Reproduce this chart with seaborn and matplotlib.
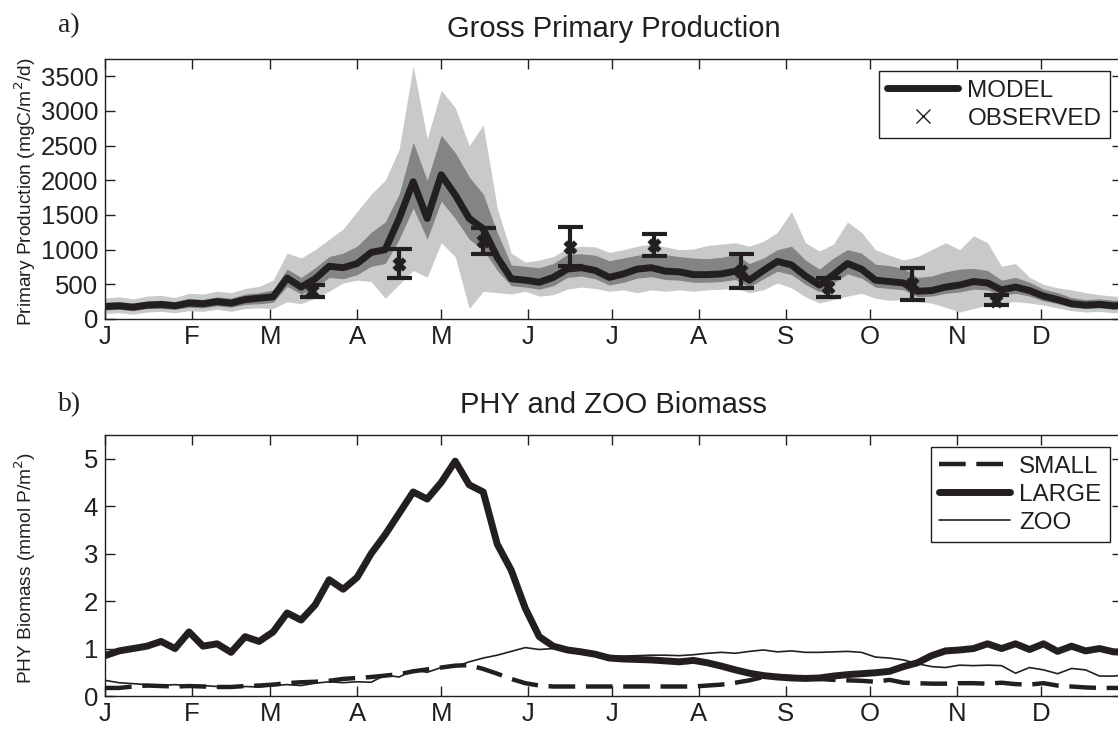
import numpy as np
import pandas as pd
import matplotlib
matplotlib.use("Agg")
import matplotlib.pyplot as plt
from matplotlib.lines import Line2D
import seaborn as sns

# ---------------------------------------------------------------- data
# day of year (5-day steps)
DAY = np.arange(0, 366, 5)

# gross primary production, mgC/m2/d : model median, inner and outer envelopes
GPP_MODEL = [180, 190, 170, 200, 210, 190, 230, 220, 250, 230, 280, 300, 320, 590, 460,
             580, 760, 740, 800, 960, 1000, 1450, 1980, 1450, 2080, 1790, 1450, 1300, 890,
             580, 560, 530, 600, 720, 740, 700, 600, 650, 720, 740, 690, 680, 640, 640, 650,
             690, 560, 700, 830, 780, 620, 490, 640, 800, 720, 560, 540, 520, 400, 410, 460,
             490, 540, 520, 420, 460, 410, 330, 280, 220, 200, 210, 190, 200]
GPP_IN_LO = [130, 140, 120, 150, 150, 140, 170, 160, 190, 170, 210, 220, 240, 470, 360,
             440, 600, 580, 640, 760, 800, 1150, 1600, 1150, 1700, 1450, 1150, 1000, 700,
             480, 460, 430, 480, 600, 620, 580, 490, 530, 590, 610, 570, 560, 530, 530, 540,
             570, 460, 580, 690, 640, 500, 390, 520, 650, 590, 460, 440, 420, 320, 330, 370,
             390, 430, 420, 340, 370, 330, 260, 220, 170, 150, 160, 140, 150]
GPP_IN_HI = [240, 250, 230, 260, 270, 250, 300, 280, 320, 300, 360, 380, 420, 720, 600,
             740, 900, 950, 1050, 1250, 1400, 1800, 2550, 2000, 2650, 2400, 2050, 1800, 1250,
             780, 760, 740, 800, 930, 940, 920, 840, 880, 920, 950, 930, 900, 880, 870, 890,
             930, 800, 880, 1000, 1050, 850, 720, 880, 1000, 950, 790, 770, 730, 600, 620, 680,
             720, 730, 700, 560, 600, 530, 430, 380, 310, 280, 290, 270, 280]
GPP_OUT_LO = [80, 90, 70, 100, 110, 90, 120, 110, 140, 110, 150, 160, 150, 250, 220,
              300, 400, 520, 560, 540, 300, 500, 700, 600, 1100, 900, 150, 400, 380,
              360, 400, 330, 350, 430, 460, 440, 400, 420, 380, 420, 400, 420, 400, 420, 430,
              450, 380, 420, 520, 450, 320, 230, 280, 330, 370, 300, 270, 280, 250, 230, 170,
              100, 150, 200, 230, 250, 230, 200, 160, 120, 100, 110, 90, 100]
GPP_OUT_HI = [300, 320, 290, 330, 340, 310, 370, 360, 400, 380, 440, 470, 560, 950, 880,
              1000, 1150, 1300, 1550, 1800, 2000, 2450, 3650, 2600, 3300, 3050, 2500, 2800, 1600,
              950, 820, 850, 900, 1020, 1050, 1040, 960, 1000, 1050, 1080, 1040, 1000, 1010, 1060,
              1080, 1100, 1050, 1120, 1250, 1550, 1100, 980, 1080, 1400, 1250, 1000, 920, 850, 900,
              1000, 1100, 1000, 1200, 1100, 760, 800, 600, 500, 450, 420, 380, 350, 330, 330]

# observed production with ranges
OBS_DAY = [74, 105, 135, 166, 196, 227, 258, 288, 318]
OBS_VAL = [400, 795, 1130, 1045, 1065, 690, 455, 505, 265]
OBS_LO = [320, 585, 935, 765, 910, 450, 320, 275, 195]
OBS_HI = [490, 1005, 1315, 1320, 1225, 935, 590, 730, 340]

# biomass, mmol P/m2
SMALL = [0.17, 0.17, 0.20, 0.22, 0.21, 0.20, 0.21, 0.20, 0.19, 0.19, 0.21, 0.22, 0.24, 0.27,
         0.29, 0.30, 0.32, 0.36, 0.38, 0.40, 0.43, 0.46, 0.52, 0.56, 0.60, 0.64, 0.65, 0.57,
         0.47, 0.36, 0.27, 0.22, 0.20, 0.20, 0.20, 0.20, 0.20, 0.20, 0.20, 0.20, 0.20, 0.20,
         0.20, 0.22, 0.24, 0.28, 0.33, 0.40, 0.42, 0.40, 0.38, 0.36, 0.34, 0.33, 0.32, 0.30,
         0.34, 0.28, 0.27, 0.26, 0.26, 0.27, 0.27, 0.26, 0.28, 0.25, 0.24, 0.27, 0.22, 0.20,
         0.18, 0.17, 0.17, 0.17]
LARGE = [0.85, 0.95, 1.00, 1.05, 1.15, 1.00, 1.35, 1.05, 1.10, 0.92, 1.25, 1.15, 1.35, 1.75,
         1.60, 1.92, 2.45, 2.25, 2.50, 3.00, 3.40, 3.85, 4.30, 4.15, 4.50, 4.95, 4.45, 4.30,
         3.20, 2.65, 1.85, 1.25, 1.05, 0.97, 0.93, 0.88, 0.80, 0.78, 0.77, 0.76, 0.74, 0.72,
         0.75, 0.70, 0.63, 0.55, 0.48, 0.43, 0.40, 0.38, 0.37, 0.38, 0.42, 0.45, 0.47, 0.49,
         0.52, 0.62, 0.70, 0.85, 0.95, 0.97, 1.00, 1.10, 1.00, 1.10, 0.98, 1.10, 0.94, 1.05,
         0.95, 1.00, 0.93, 0.92]
ZOO = [0.33, 0.28, 0.26, 0.24, 0.22, 0.24, 0.21, 0.22, 0.20, 0.18, 0.20, 0.19, 0.22, 0.24,
       0.22, 0.27, 0.30, 0.28, 0.30, 0.29, 0.44, 0.40, 0.55, 0.50, 0.60, 0.62, 0.72, 0.80,
       0.86, 0.94, 1.02, 0.98, 1.00, 0.97, 0.92, 0.88, 0.85, 0.84, 0.85, 0.86, 0.86, 0.85,
       0.87, 0.90, 0.92, 0.90, 0.94, 0.97, 0.93, 0.95, 0.92, 0.92, 0.93, 0.94, 0.92, 0.82,
       0.80, 0.76, 0.68, 0.62, 0.60, 0.65, 0.64, 0.65, 0.64, 0.48, 0.60, 0.55, 0.47, 0.58,
       0.55, 0.42, 0.42, 0.45]

MONTH_START = [0, 31, 59, 90, 120, 151, 181, 212, 243, 273, 304, 334]
MONTH_LABELS = ["J", "F", "M", "A", "M", "J", "J", "A", "S", "O", "N", "D"]
GPP_TICKS = [0, 500, 1000, 1500, 2000, 2500, 3000, 3500]
BIO_TICKS = [0, 1, 2, 3, 4, 5]

# ---------------------------------------------------------------- style
sns.set_theme(style="ticks")
plt.rcParams["font.family"] = ["Liberation Sans", "DejaVu Sans"]
INK = "#231f20"
LIGHT = "#c8c9cb"
DARK = "#838486"
plt.rcParams.update({
    "text.color": INK, "axes.labelcolor": INK, "axes.edgecolor": INK,
    "xtick.color": INK, "ytick.color": INK, "axes.linewidth": 1.0,
})

W, H = 1118, 729
fig = plt.figure(figsize=(W / 100, H / 100), dpi=100)

def px_axes(left, top, right, bottom):
    return fig.add_axes([left / W, 1 - bottom / H, (right - left) / W, (bottom - top) / H])

AX_LEFT, AX_RIGHT = 105, 1122
ax1 = px_axes(AX_LEFT, 59, AX_RIGHT, 319)
ax2 = px_axes(AX_LEFT, 435, AX_RIGHT, 696)

def style_axes(ax, yticks, ylim):
    ax.set_xlim(0, 363)
    ax.set_ylim(*ylim)
    ax.set_xticks(MONTH_START)
    ax.set_xticklabels(MONTH_LABELS)
    ax.set_yticks(yticks)
    ax.tick_params(direction="in", length=7, width=1.0, top=True, right=True,
                   labelsize=18.5, pad=5, color=INK)
    ax.tick_params(axis="x", pad=4)
    for s in ax.spines.values():
        s.set_visible(True)
        s.set_linewidth(1.0)
        s.set_color(INK)
    ax.set_xlabel("")

def place_ylabel(ax, text):
    ax.set_ylabel(text, fontsize=13.8)
    ax.yaxis.set_label_coords((38 - AX_LEFT) / (AX_RIGHT - AX_LEFT), 0.49)

LEG_KW = dict(loc="upper right", bbox_transform=fig.transFigure, fontsize=17.5,
              frameon=True, fancybox=False, edgecolor=INK, framealpha=1,
              handlelength=2.9, handletextpad=0.4, borderpad=0.35,
              labelspacing=0.25, borderaxespad=0)

# ---------------------------------------------------------------- panel a
ax1.fill_between(DAY, GPP_OUT_LO, GPP_OUT_HI, color=LIGHT, lw=0, zorder=1)
ax1.fill_between(DAY, GPP_IN_LO, GPP_IN_HI, color=DARK, lw=0, zorder=2)
sns.lineplot(x=DAY, y=GPP_MODEL, ax=ax1, color=INK, linewidth=5, estimator=None,
             legend=False, zorder=3)
obs_val = np.array(OBS_VAL)
ax1.errorbar(OBS_DAY, OBS_VAL,
             yerr=[obs_val - np.array(OBS_LO), np.array(OBS_HI) - obs_val],
             fmt="none", ecolor=INK, elinewidth=3, capsize=9, capthick=3, zorder=4)
sns.scatterplot(x=OBS_DAY, y=OBS_VAL, ax=ax1, marker="X", s=90, color=INK,
                edgecolor=INK, linewidth=0.5, legend=False, zorder=5)
style_axes(ax1, GPP_TICKS, (0, 3750))
place_ylabel(ax1, "Primary Production (mgC/m$^2$/d)")
ax1.set_title("Gross Primary Production", fontsize=21, pad=16)

h_a = [Line2D([], [], color=INK, lw=5),
       Line2D([], [], color=INK, marker="x", ls="none", ms=10, mew=1)]
fig.legend(h_a, ["MODEL", "OBSERVED"], bbox_to_anchor=(1110 / W, 1 - 71 / H), **LEG_KW)

# ---------------------------------------------------------------- panel b
sns.lineplot(x=DAY, y=ZOO, ax=ax2, color=INK, linewidth=1.2, estimator=None, legend=False)
sns.lineplot(x=DAY, y=LARGE, ax=ax2, color=INK, linewidth=5, estimator=None, legend=False)
sns.lineplot(x=DAY, y=SMALL, ax=ax2, color=INK, linewidth=3.2, estimator=None, legend=False)
ax2.lines[-1].set_dashes((6, 2.4))
style_axes(ax2, BIO_TICKS, (0, 5.5))
place_ylabel(ax2, "PHY Biomass (mmol P/m$^2$)")
ax2.set_title("PHY and ZOO Biomass", fontsize=21, pad=16)

h_b = [Line2D([], [], color=INK, lw=3.2, dashes=(6, 2.4)),
       Line2D([], [], color=INK, lw=5),
       Line2D([], [], color=INK, lw=1.2)]
fig.legend(h_b, ["SMALL", "LARGE", "ZOO"], bbox_to_anchor=(1110 / W, 1 - 447 / H), **LEG_KW)

# panel letters
fig.text(58 / W, 1 - 32 / H, "a)", family=["Liberation Serif", "DejaVu Serif"],
         fontsize=20, color=INK, va="baseline")
fig.text(58 / W, 1 - 411 / H, "b)", family=["Liberation Serif", "DejaVu Serif"],
         fontsize=20, color=INK, va="baseline")

fig.savefig("out.png", dpi=100)
